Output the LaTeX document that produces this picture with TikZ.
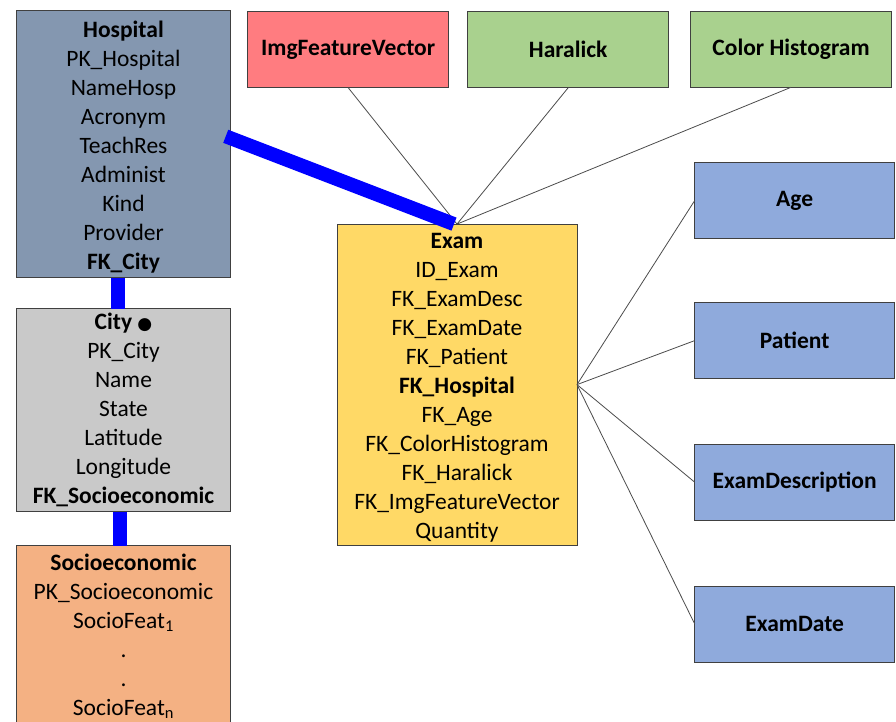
\documentclass[tikz,border=0pt]{standalone}
\usepackage{fontspec}
\setmainfont{Carlito}
\newfontfamily\symfont{DejaVu Sans}
\usetikzlibrary{positioning}
\definecolor{hospfill}{HTML}{8497B0}
\definecolor{cityfill}{HTML}{C9C9C9}
\definecolor{sociofill}{HTML}{F4B183}
\definecolor{examfill}{HTML}{FFD966}
\definecolor{imgfill}{HTML}{FF7C80}
\definecolor{featfill}{HTML}{A9D18E}
\definecolor{dimfill}{HTML}{8FAADC}
\tikzset{
	tbl/.style={draw=black!75,line width=0.8pt,align=center,inner sep=0pt,outer sep=0pt,
		font=\fontsize{23.5}{29}\selectfont},
	dim/.style={draw=black!75,line width=0.8pt,inner sep=0pt,outer sep=0pt,
		minimum width=201pt,minimum height=76pt,font=\fontsize{23.5}{29}\selectfont\bfseries},
	thin link/.style={draw=black!70,line width=0.8pt},
	thick link/.style={draw=blue,line width=14pt}
}
\begin{document}
\begin{tikzpicture}[x=1pt,y=-1pt]
	\clip (0,0) rectangle (896,722);
	\fill[white] (0,0) rectangle (896,722);
	% fact table
	\node[tbl,fill=examfill,minimum width=240pt,minimum height=321pt] (Exam) at (457,384.6)
		{\rule{0pt}{21pt}\textbf{Exam}\\ID\_Exam\\FK\_ExamDesc\\FK\_ExamDate\\FK\_Patient\\\textbf{FK\_Hospital}\\FK\_Age\\FK\_ColorHistogram\\FK\_Haralick\\FK\_ImgFeatureVector\\Quantity};
	% snowflake on the left
	\node[tbl,fill=hospfill,minimum width=214.5pt,minimum height=267pt] (Hospital) at (123.5,144.3)
		{\rule{0pt}{22pt}\textbf{Hospital}\\PK\_Hospital\\NameHosp\\Acronym\\TeachRes\\Administ\\Kind\\Provider\\\textbf{FK\_City}};
	\node[tbl,fill=cityfill,minimum width=214.5pt,minimum height=203pt] (City) at (123.5,410.2)
		{\textbf{City} {\symfont\fontsize{17}{29}\selectfont ●}\\PK\_City\\Name\\State\\Latitude\\Longitude\\\textbf{FK\_Socioeconomic}};
	\node[tbl,fill=sociofill,minimum width=214.5pt,minimum height=184.6pt] (Socio) at (123.5,638)
		{\textbf{Socioeconomic}\\PK\_Socioeconomic\\SocioFeat\textsubscript{1}\\.\\.\\SocioFeat\textsubscript{n}\rule[-7pt]{0pt}{0pt}};
	% dimensions
	\node[dim,fill=imgfill] (ImgFeat) at (348.2,49.7) {ImgFeatureVector};
	\node[dim,fill=featfill] (Haralick) at (568.2,49.7) {Haralick};
	\node[dim,fill=featfill] (ColorHist) at (791,49.3) {Color Histogram};
	\node[dim,fill=dimfill,minimum width=200pt] (Age) at (794.7,200.5) {Age};
	\node[dim,fill=dimfill,minimum width=200pt] (Patient) at (794.7,340.6) {Patient};
	\node[dim,fill=dimfill,minimum width=200pt] (ExamDesc) at (794.7,482.2) {ExamDescription};
	\node[dim,fill=dimfill,minimum width=200pt] (ExamDate) at (794.7,624) {ExamDate};
	% links
	\draw[thin link] (ImgFeat.south) -- (Exam.north);
	\draw[thin link] (Haralick.south) -- (Exam.north);
	\draw[thin link] (ColorHist.south) -- (Exam.north);
	\foreach \d in {Age,Patient,ExamDesc,ExamDate}
		\draw[thin link] (Exam.east) -- (\d.west);
	\draw[thick link] ([xshift=-5pt,yshift=8pt]Hospital.east) -- ([xshift=-3pt]Exam.north);
	\draw[thick link] ([xshift=-5.5pt]Hospital.south) -- ([xshift=-5.5pt]City.north);
	\draw[thick link] ([xshift=-3.5pt]City.south) -- ([xshift=-3.5pt]Socio.north);
\end{tikzpicture}
\end{document}
